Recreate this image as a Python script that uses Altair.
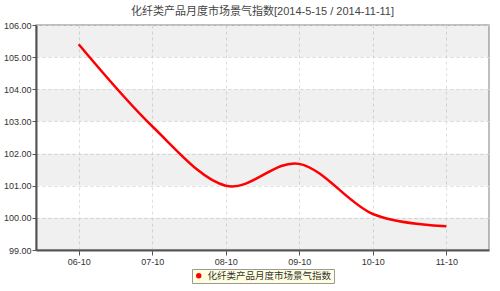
import altair as alt
import pandas as pd

months = ["06-10", "07-10", "08-10", "09-10", "10-10", "11-10"]
values = [105.40, 102.85, 101.00, 101.68, 100.12, 99.74]
series_name = "化纤类产品月度市场景气指数"
title_text = "化纤类产品月度市场景气指数[2014-5-15 / 2014-11-11]"
band_lo = [99, 101, 103, 105]
band_hi = [100, 102, 104, 106]
y_ticks = [99, 100, 101, 102, 103, 104, 105, 106]

df = pd.DataFrame({"month": months, "value": values, "series": [series_name] * len(months)})
bands = pd.DataFrame({"lo": band_lo, "hi": band_hi})

FONT = "Liberation Sans, Arial, Noto Sans CJK SC, sans-serif"

yscale = alt.Scale(domain=[99, 106], nice=False, zero=False)
xscale = alt.Scale(type="point", padding=0.58, domain=months)

yaxis = alt.Axis(title=None, values=y_ticks, format=".2f", grid=True, gridDash=[3, 3],
                 gridColor="#dedede", domainColor="#555", domainWidth=2, tickColor="#555",
                 tickSize=4, labelFontSize=9, labelColor="#333", labelFont=FONT, labelPadding=1)

band_layer = alt.Chart(bands).mark_rect(color="#000000", opacity=0.058).encode(
    y=alt.Y("lo:Q", scale=yscale, axis=yaxis),
    y2="hi:Q",
)

line_layer = alt.Chart(df).mark_line(interpolate="cardinal", strokeWidth=2.5).encode(
    x=alt.X("month:O", scale=xscale, sort=months,
            axis=alt.Axis(title=None, labelAngle=0, grid=True, gridDash=[3, 3],
                          gridColor="#dedede", domainColor="#555", domainWidth=2,
                          tickColor="#555", tickSize=5, labelFontSize=9,
                          labelColor="#333", labelFont=FONT, labelPadding=2)),
    y=alt.Y("value:Q", scale=yscale, axis=yaxis),
    color=alt.Color("series:N", scale=alt.Scale(domain=[series_name], range=["#ff0000"]),
                    legend=alt.Legend(orient="none", legendX=156, legendY=244, title=None,
                                      fillColor="#ffffe0", strokeColor="#999999", padding=2,
                                      labelFontSize=9.5, labelFont=FONT, labelColor="#333",
                                      symbolType="circle", symbolSize=30, symbolStrokeWidth=0,
                                      symbolFillColor="#ff0000", labelOffset=4)),
)

chart = alt.layer(band_layer, line_layer).properties(
    width=453,
    height=225,
    title=alt.TitleParams(title_text, fontSize=11, font=FONT, color="#444", fontWeight="normal",
                          anchor="middle", offset=4),
    autosize=alt.AutoSizeParams(type="none"),
    padding={"left": 36, "top": 25, "right": 11, "bottom": 41},
    background="white",
).configure_view(stroke="#aaaaaa", strokeWidth=1.5)

chart.save("out.html", embed_options={"renderer": "svg", "actions": False})
